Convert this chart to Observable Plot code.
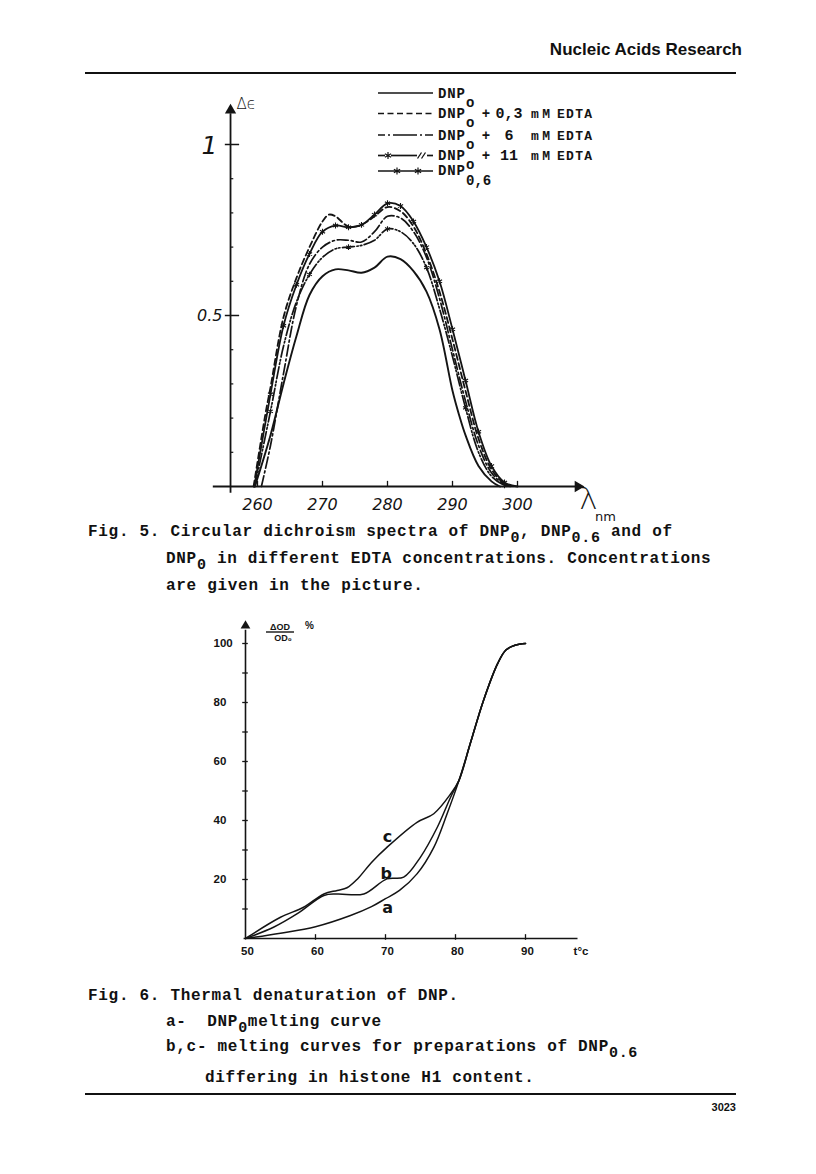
<!DOCTYPE html>
<html><head><meta charset="utf-8">
<script src="https://cdn.jsdelivr.net/npm/d3@7"></script>
<script src="https://cdn.jsdelivr.net/npm/@observablehq/plot@0.6"></script>
<style>
html,body{margin:0;padding:0;background:#fff;}
#page{position:relative;width:816px;height:1174px;overflow:hidden;background:#fff;color:#111;}
.abs{position:absolute;white-space:pre;}
.cap{font-family:"Liberation Mono",monospace;font-weight:bold;font-size:16px;letter-spacing:0.7px;line-height:20px;color:#111;}
.cap sub{font-size:15px;vertical-align:-6px;line-height:0;}
.hdr{font-family:"Liberation Sans",Arial,sans-serif;font-weight:bold;color:#111;}
.rule{position:absolute;background:#111;}
</style></head><body><div id="page">
<div class="abs hdr" style="right:74px;top:40px;font-size:17px;">Nucleic Acids Research</div>
<div class="rule" style="left:85px;top:72px;width:651px;height:2px;"></div>
<div id="fig5" class="abs" style="left:0;top:80px;"></div>
<div id="fig6" class="abs" style="left:0;top:600px;"></div>
<div class="abs cap" style="left:88px;top:522px;">Fig. 5. Circular dichroism spectra of DNP<sub>0</sub>, DNP<sub>0.6</sub> and of</div>
<div class="abs cap" style="left:166px;top:549px;">DNP<sub>0</sub> in different EDTA concentrations. Concentrations</div>
<div class="abs cap" style="left:166px;top:576px;">are given in the picture.</div>
<div class="abs cap" style="left:88px;top:986px;">Fig. 6. Thermal denaturation of DNP.</div>
<div class="abs cap" style="left:166px;top:1012px;">a-  DNP<sub>0</sub>melting curve</div>
<div class="abs cap" style="left:166px;top:1037px;">b,c- melting curves for preparations of DNP<sub>0.6</sub></div>
<div class="abs cap" style="left:205px;top:1068px;">differing in histone H1 content.</div>
<div class="rule" style="left:85px;top:1093px;width:651px;height:1.5px;"></div>
<div class="abs hdr" style="right:80px;top:1101px;font-size:11px;">3023</div>
<svg id="ov" class="abs" style="left:0;top:0;" width="816" height="1174"></svg>
</div>
<script>
// ---------- Fig. 5 data: circular dichroism spectra ----------
const xTicks5 = [260, 270, 280, 290, 300];
const minorTicks5 = [0.1, 0.2, 0.3, 0.4, 0.6, 0.7, 0.8, 0.9];
const majorTicks5 = [0.5, 1];

// DNP0 (solid)
const lamA = [259.6,262,264,266,268,270,272,274,276,278,280,282,284,286,288,290,291,292,294,296,297.3];
const cdA  = [0,0.15,0.30,0.44,0.56,0.615,0.635,0.632,0.625,0.64,0.672,0.665,0.63,0.57,0.46,0.28,0.21,0.15,0.06,0.015,0];
// DNP0 + 0,3 mM EDTA (dashed)
const lamB = [259.4,261.2,262,264,266,268,270,271,272,274,276,278,280,282,284,286,288,290,292,294,296,298,299.5];
const cdB  = [0,0.21,0.29,0.495,0.61,0.70,0.775,0.795,0.79,0.76,0.765,0.79,0.817,0.805,0.76,0.68,0.57,0.43,0.28,0.14,0.05,0.008,0];
// DNP0 + 6 mM EDTA (dash-dot)
const lamC = [260.6,262,264,266,268,270,272,274,276,278,280,282,284,286,288,290,292,294,296,298,299];
const cdC  = [0,0.12,0.33,0.53,0.65,0.70,0.72,0.72,0.715,0.745,0.79,0.785,0.745,0.67,0.55,0.40,0.25,0.12,0.04,0.005,0];
// DNP0 + 11 mM EDTA (-*-//-)
const lamD = [259.6,262,264,266,268,270,272,274,276,278,280,282,284,286,288,290,292,294,296,298,298.5];
const cdD  = [0,0.22,0.41,0.54,0.62,0.67,0.695,0.70,0.705,0.72,0.753,0.745,0.71,0.64,0.52,0.38,0.23,0.10,0.03,0.003,0];
// DNP0,6 (stars)
const lamE = [259.5,262,264,266,268,270,272,274,276,278,280,282,284,286,288,290,292,294,296,298,300];
const cdE  = [0,0.27,0.47,0.59,0.68,0.745,0.763,0.758,0.765,0.795,0.828,0.82,0.775,0.70,0.60,0.46,0.31,0.16,0.06,0.012,0];

// ---------- Fig. 6 data: thermal denaturation ----------
const xTicks6 = [50, 60, 70, 80, 90];
const yTicks6 = [10, 20, 30, 40, 50, 60, 70, 80, 90, 100];
const yLabels6 = [20, 40, 60, 80, 100];
const tempA = [50,55,60,65,68,70,72,74.5,76.9,78.8,80.5,82.1,84,86,87.2,88.5,90];
const hypA  = [0,1.8,4,7.8,10.8,13.5,16.3,21.9,30.9,42.3,53.6,66,80.7,93.1,97.8,99.4,100];
const tempB = [50,54,57.4,61.2,63.1,66.9,70.2,72.6,75,77.4,79.3,80.5,82.1,84,86,87.2,88.5,90];
const hypB  = [0,3.8,8.4,14.6,15.1,15.1,20.2,20.8,27.6,37.7,47.9,53.6,66,80.7,93.1,97.8,99.4,100];
const tempC = [50,55,58.3,61.2,63.1,64.5,66,68,70.2,74.5,76.9,79.3,80.5,82.1,84,86,87.2,88.5,90];
const hypC  = [0,7.2,10.6,15.1,16.3,17.2,20.2,25.8,30.9,39.4,42.3,49,53.6,66,80.7,93.1,97.8,99.4,100];
const curveNames6 = ["a", "b", "c"];
const curveLabelT = [70.3, 70.1, 70.3];
const curveLabelV = [10.4, 21.9, 34.6];

const ink = "#141414";
const hand = "'DejaVu Sans', sans-serif";
const yAxis5 = 255.85;

const fig5 = Plot.plot({
  width: 816, height: 460,
  style: {background: "transparent", overflow: "visible"},
  x: {domain: [253, 310], range: [211.5, 582], axis: null},
  y: {domain: [0, 1], range: [406, 64], axis: null},
  marks: [
    Plot.ruleY([0], {x1: 253.2, x2: 309.3, stroke: ink, strokeWidth: 1.8}),
    Plot.dot([0], {x: 309.3, y: 0, symbol: "triangle", rotate: 90, r: 4.2, fill: ink, stroke: null}),
    Plot.ruleX([yAxis5], {x: d => d, y1: -0.02, y2: 1.09, stroke: ink, strokeWidth: 1.8}),
    Plot.dot([1.1], {x: yAxis5, y: d => d, symbol: "triangle", r: 4.2, fill: ink, stroke: null}),
    Plot.ruleY(minorTicks5, {y: d => d, x1: yAxis5, x2: yAxis5 + 0.5, stroke: ink, strokeWidth: 1.2}),
    Plot.ruleY(majorTicks5, {y: d => d, x1: yAxis5 - 0.8, x2: yAxis5 + 1.4, stroke: ink, strokeWidth: 1.5}),
    Plot.ruleX(xTicks5, {x: d => d, y1: 0, y2: 0.015, stroke: ink, strokeWidth: 1.3}),
    Plot.text(xTicks5, {x: d => d, y: 0, dy: 18, text: d => String(d), fontSize: 16, fontStyle: "italic", fontWeight: 300, fontFamily: hand, fill: ink}),
    Plot.text([1], {x: yAxis5, y: d => d, dx: -13, dy: 1, text: d => "1", textAnchor: "end", fontSize: 25, fontStyle: "italic", fontWeight: 300, fontFamily: hand, fill: ink}),
    Plot.text([0.5], {x: yAxis5, y: d => d, dx: -8, text: d => "0.5", textAnchor: "end", fontSize: 16, fontStyle: "italic", fontWeight: 300, fontFamily: hand, fill: ink}),
    Plot.text([1.12], {x: yAxis5, y: d => d, dx: 6, dy: 1, text: d => "Δϵ", textAnchor: "start", fontSize: 15, fontWeight: 300, fontFamily: hand, fill: ink}),
    Plot.text([0], {x: 310.15, y: d => d, dx: 5, dy: 13, text: d => "λ", fontSize: 31, fontWeight: 300, fontFamily: hand, fill: ink}),
    Plot.text([0], {x: 310.15, y: d => d, dx: 22, dy: 30, text: d => "nm", fontSize: 13, fontFamily: hand, fill: ink}),
    // curves
    Plot.line(cdA, {x: lamA, y: cdA, curve: "catmull-rom", stroke: ink, strokeWidth: 1.9}),
    Plot.line(cdB, {x: lamB, y: cdB, curve: "catmull-rom", stroke: ink, strokeWidth: 1.8, strokeDasharray: "6,3.5"}),
    Plot.line(cdC, {x: lamC, y: cdC, curve: "catmull-rom", stroke: ink, strokeWidth: 1.7, strokeDasharray: "11,3,2,3"}),
    Plot.line(cdD, {x: lamD, y: cdD, curve: "catmull-rom", stroke: ink, strokeWidth: 1.7, strokeDasharray: "12,2.5,1.5,2,1.5,2.5"}),
    Plot.dot(cdD, {x: lamD, y: cdD, filter: (d, i) => i > 0 && i % 3 === 1, symbol: "asterisk", r: 2.6, stroke: ink, strokeWidth: 1.1}),
    Plot.line(cdE, {x: lamE, y: cdE, curve: "catmull-rom", stroke: ink, strokeWidth: 1.8}),
    Plot.dot(cdE, {x: lamE, y: cdE, filter: (d, i) => i > 0 && i < cdE.length - 1, symbol: "asterisk", r: 2.8, stroke: ink, strokeWidth: 1.1})
  ]
});
document.getElementById("fig5").append(fig5);

const sans = "'Liberation Sans', Arial, sans-serif";
const fig6 = Plot.plot({
  width: 816, height: 370,
  style: {background: "transparent", overflow: "visible"},
  x: {domain: [50, 97], range: [245, 574], axis: null},
  y: {domain: [0, 100], range: [338, 43], axis: null},
  marks: [
    Plot.ruleY([0], {y: d => d, x1: 49.8, x2: 97.5, stroke: ink, strokeWidth: 1.6}),
    Plot.ruleX([50], {x: d => d, y1: 0, y2: 104.5, stroke: ink, strokeWidth: 1.6}),
    Plot.dot([106], {x: 50, y: d => d, symbol: "triangle", r: 3.6, fill: ink, stroke: null}),
    Plot.ruleY(yTicks6, {y: d => d, x1: 49.6, x2: 50.4, stroke: ink, strokeWidth: 1.3}),
    Plot.ruleX(xTicks6.slice(1), {x: d => d, y1: -0.6, y2: 1.3, stroke: ink, strokeWidth: 1.3}),
    Plot.text(xTicks6, {x: d => d, y: 0, dy: 13, dx: 2, text: d => String(d), fontSize: 11.5, fontWeight: "bold", fontFamily: sans, fill: ink}),
    Plot.text(yLabels6, {x: 50, y: d => d, dx: -32, text: d => String(d), textAnchor: "start", fontSize: 11.5, fontWeight: "bold", fontFamily: sans, fill: ink}),
    Plot.text([0], {x: 97.5, y: d => d, dx: 3, dy: 13, text: d => "t°c", fontSize: 11.5, fontWeight: "bold", fontFamily: sans, fill: ink}),
    Plot.line(hypA, {x: tempA, y: hypA, curve: "catmull-rom", stroke: ink, strokeWidth: 1.5}),
    Plot.line(hypB, {x: tempB, y: hypB, curve: "catmull-rom", stroke: ink, strokeWidth: 1.5}),
    Plot.line(hypC, {x: tempC, y: hypC, curve: "catmull-rom", stroke: ink, strokeWidth: 1.5}),
    Plot.text(curveNames6, {x: curveLabelT, y: curveLabelV, text: d => d, fontSize: 16, fontWeight: 600, fontFamily: hand, fill: ink})
  ]
});
document.getElementById("fig6").append(fig6);

// ---------- overlay: legend of Fig. 5 and the y label of Fig. 6 ----------
const legendLabels = ["DNP", "DNP", "DNP", "DNP", "DNP"];
const legendSubs = ["o", "o", "o", "o", "0,6"];
const legendPlus = ["", "0,3", "6", "11", ""];
const ov = d3.select("#ov");
const mono = "'Liberation Mono', monospace";
const rowY = [93, 113.5, 135, 155.5, 171];
const x0 = 378, x1 = 433;
const g = ov.append("g").attr("stroke", ink).attr("fill", "none").attr("stroke-width", 1.7);
g.append("line").attr("x1", x0).attr("x2", x1).attr("y1", rowY[0]).attr("y2", rowY[0]);
g.append("line").attr("x1", x0).attr("x2", x1).attr("y1", rowY[1]).attr("y2", rowY[1]).attr("stroke-dasharray", "6,3.5");
g.append("line").attr("x1", x0).attr("x2", x1).attr("y1", rowY[2]).attr("y2", rowY[2]).attr("stroke-dasharray", "7,3,2,3,24,3,2,3,8");
[[378, 385], [391, 417], [427, 433]].forEach(([a, b]) =>
  g.append("line").attr("x1", a).attr("x2", b).attr("y1", rowY[3]).attr("y2", rowY[3]));
[419.5, 423.5].forEach(x => g.append("line").attr("x1", x - 2).attr("x2", x + 2).attr("y1", rowY[3] + 3).attr("y2", rowY[3] - 3).attr("stroke-width", 1.3));
g.append("line").attr("x1", x0).attr("x2", x1).attr("y1", rowY[4]).attr("y2", rowY[4]);
const star = d3.symbol(d3.symbolAsterisk, 36)();
[[388, rowY[3]], [397, rowY[4]], [418, rowY[4]]].forEach(([x, y]) =>
  g.append("path").attr("d", star).attr("transform", `translate(${x},${y})`).attr("stroke-width", 1.2));
const t = ov.append("g").attr("fill", ink).attr("font-family", mono).attr("font-weight", "bold");
legendLabels.forEach((lab, i) => {
  const y = rowY[i] + 4.5;
  t.append("text").attr("x", 438).attr("y", i === 4 ? y - 1 : y).attr("font-size", 14).attr("textLength", 27).text(lab);
  t.append("text").attr("x", 466).attr("y", y + 9).attr("font-size", 14).text(legendSubs[i]);
  if (legendPlus[i]) {
    t.append("text").attr("x", 486).attr("y", y).attr("font-size", 14).attr("text-anchor", "middle").text("+");
    t.append("text").attr("x", 509).attr("y", y).attr("font-size", 15).attr("text-anchor", "middle").text(legendPlus[i]);
    t.append("text").attr("x", 531).attr("y", y).attr("font-size", 13).attr("textLength", 19).text("mM");
    t.append("text").attr("x", 557).attr("y", y).attr("font-size", 13).attr("textLength", 35).text("EDTA");
  }
});
const yl = ov.append("g").attr("fill", ink).attr("font-family", sans).attr("font-weight", "bold").attr("font-size", 9);
yl.append("text").attr("x", 280).attr("y", 630).attr("text-anchor", "middle").text("ΔOD");
yl.append("line").attr("x1", 266).attr("x2", 294).attr("y1", 632).attr("y2", 632).attr("stroke", ink).attr("stroke-width", 1.4);
yl.append("text").attr("x", 283).attr("y", 641).attr("text-anchor", "middle").text("OD₀");
yl.append("text").attr("x", 305).attr("y", 629).attr("font-size", 10).text("%");
</script>
</body></html>
